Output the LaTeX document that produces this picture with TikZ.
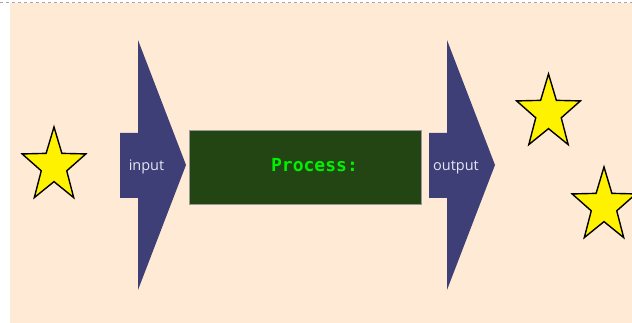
\documentclass[tikz,border=0pt]{standalone}
\usepackage{fontspec}
\usetikzlibrary{shapes.geometric}
\newfontfamily\labelfont{Open Sans}
\newfontfamily\procfont{DejaVu Sans Mono}
\definecolor{paper}{HTML}{FFEBD5}
\definecolor{arrowblue}{HTML}{3F3F78}
\definecolor{procgreen}{HTML}{234413}
\definecolor{proctext}{HTML}{00F000}
\definecolor{labeltext}{HTML}{E4E4F2}

\begin{document}
\begin{tikzpicture}[x=1pt,y=-1pt]

	 % styles of the shapes
	 \tikzstyle{bigarrow}=[fill=arrowblue,draw=none]
	 \tikzstyle{procbox}=[fill=procgreen,draw=gray!80,line width=0.6pt]
	 \tikzstyle{arrowlabel}=[text=labeltext,font=\labelfont\fontsize{14.5}{16}\selectfont]
	 \tikzstyle{starnode}=[star,star points=5,star point ratio=2.5,minimum size=67pt,
	 	inner sep=0pt,fill=yellow,draw=black,line width=1.4pt,transform shape]

	 \useasboundingbox (0,0) rectangle (632,323);
	 \fill[paper] (10,3) rectangle (632,323);
	 \draw[gray!70,dashed,line width=0.8pt] (0,2) -- (632,2);

	 % input arrow
	 \fill[bigarrow] (120,133) -- (138,133) -- (138,40) -- (186,165) -- (138,290)
	 	-- (138,198) -- (120,198) -- cycle;
	 \node[arrowlabel] (in) at (146.5,167) {input};

	 % process box
	 \draw[procbox] (189,130) rectangle (421,204);
	 \node[text=proctext,font=\procfont\bfseries\fontsize{18}{20}\selectfont] (proc) at (314.5,165) {Process:};

	 % output arrow
	 \fill[bigarrow] (429,133) -- (447,133) -- (447,40) -- (495,165) -- (447,290)
	 	-- (447,198) -- (429,198) -- cycle;
	 \node[arrowlabel] (out) at (456,167) {output};

	 % stars
	 \begin{scope}[shift={(54,166)},yscale=1.166]
	 	\node[starnode] (star1) at (0,0) {};
	 \end{scope}
	 \begin{scope}[shift={(548.5,113)},yscale=1.166]
	 	\node[starnode] (star2) at (0,0) {};
	 \end{scope}
	 \begin{scope}[shift={(604,206)},yscale=1.166]
	 	\node[starnode] (star3) at (0,0) {};
	 \end{scope}

\end{tikzpicture}
\end{document}
